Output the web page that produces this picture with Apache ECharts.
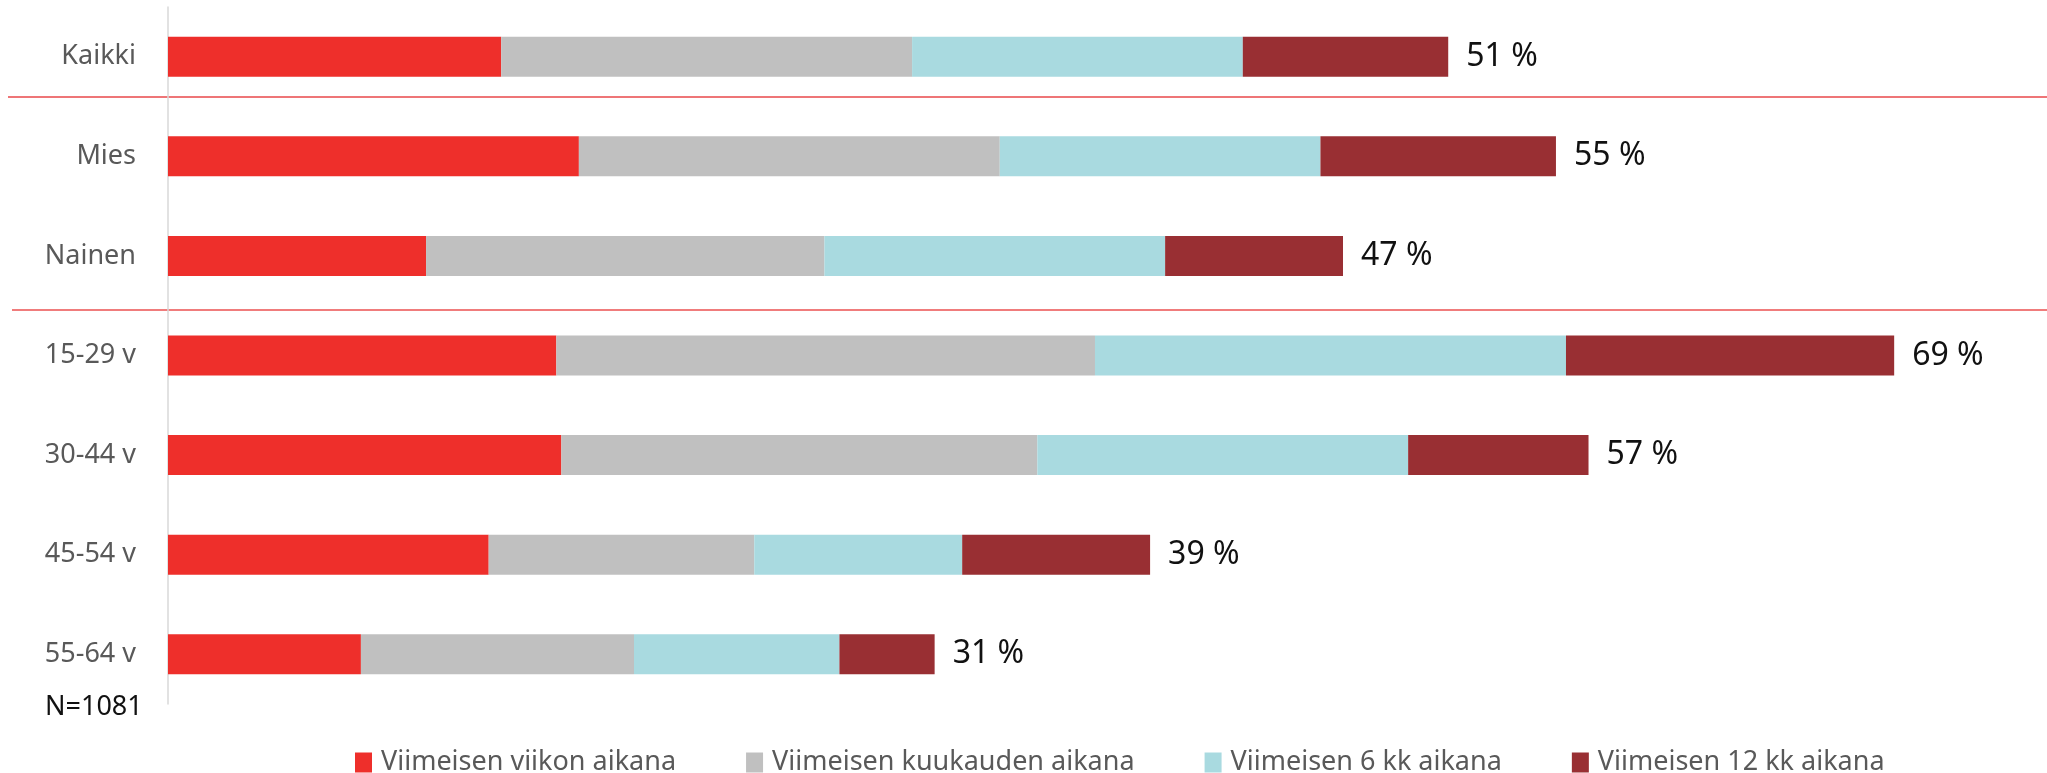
<!DOCTYPE html>
<html lang="fi">
  <head>
    <meta charset="UTF-8" />
    <title>Viimeisen ajan osuudet</title>
    <script src="https://cdn.jsdelivr.net/npm/echarts@6.0.0/dist/echarts.min.js"></script>
    <style>
      html,
      body {
        margin: 0;
        padding: 0;
        background: #fff;
      }
      #chart {
        width: 2047px;
        height: 773px;
      }
    </style>
  </head>
  <body>
    <div id="chart"></div>

    <script>
      // ryhmät ylhäältä alas
      var categories = ['Kaikki', 'Mies', 'Nainen', '15-29 v', '30-44 v', '45-54 v', '55-64 v'];
      var seriesNames = [
        'Viimeisen viikon aikana',
        'Viimeisen kuukauden aikana',
        'Viimeisen 6 kk aikana',
        'Viimeisen 12 kk aikana'
      ];
      // osuudet (%), luettu kuvasta
      var viikko = [13.3, 16.4, 10.3, 15.5, 15.7, 12.8, 7.7];
      var kuukausi = [16.4, 16.8, 15.9, 21.5, 19.0, 10.6, 10.9];
      var kk6 = [13.2, 12.8, 13.6, 18.8, 14.8, 8.3, 8.2];
      var kk12 = [8.2, 9.4, 7.1, 13.1, 7.2, 7.5, 3.8];
      var totals = [51, 55, 47, 69, 57, 39, 31];

      var colors = ['#EE2F2B', '#C0C0C0', '#A9DAE0', '#992F33'];
      var font = '"Noto Sans", "Open Sans", sans-serif';

      var chart = echarts.init(document.getElementById('chart'));

      function bar(name, values, color, last) {
        return {
          name: name,
          type: 'bar',
          stack: 'kaikki',
          barWidth: 40,
          data: values,
          itemStyle: { color: color },
          label: last
            ? {
                show: true,
                position: 'right',
                distance: 18,
                color: '#111',
                fontSize: 32,
                fontFamily: font,
                formatter: function (p) {
                  return totals[p.dataIndex] + ' %';
                }
              }
            : { show: false },
          emphasis: { disabled: true }
        };
      }

      var option = {
        animation: false,
        color: colors,
        grid: { left: 168, top: 7, width: 1880, height: 697 },
        legend: {
          left: 350,
          top: 744,
          itemWidth: 17,
          itemHeight: 20,
          itemGap: 70,
          icon: 'rect',
          data: seriesNames,
          textStyle: {
            color: '#595959',
            fontSize: 27,
            fontFamily: font,
            padding: [0, 0, 0, 4]
          }
        },
        xAxis: {
          type: 'value',
          min: 0,
          max: 75,
          show: false
        },
        yAxis: {
          type: 'category',
          inverse: true,
          data: categories,
          axisLine: { show: true, lineStyle: { color: '#D9D9D9', width: 1.5 } },
          axisTick: { show: false },
          axisLabel: {
            margin: 32,
            color: '#595959',
            fontSize: 27,
            fontFamily: font
          }
        },
        series: [
          bar(seriesNames[0], viikko, colors[0], false),
          bar(seriesNames[1], kuukausi, colors[1], false),
          bar(seriesNames[2], kk6, colors[2], false),
          bar(seriesNames[3], kk12, colors[3], true)
        ],
        graphic: [
          {
            type: 'line',
            shape: { x1: 8, y1: 97, x2: 2047, y2: 97 },
            style: { stroke: '#E8474A', lineWidth: 1.5 }
          },
          {
            type: 'line',
            shape: { x1: 12, y1: 310, x2: 2047, y2: 310 },
            style: { stroke: '#F07C7C', lineWidth: 2 }
          },
          {
            type: 'text',
            left: 45,
            top: 694,
            style: {
              text: 'N=1081',
              fill: '#111',
              fontSize: 27,
              fontFamily: font
            }
          }
        ]
      };

      chart.setOption(option);
    </script>
  </body>
</html>
